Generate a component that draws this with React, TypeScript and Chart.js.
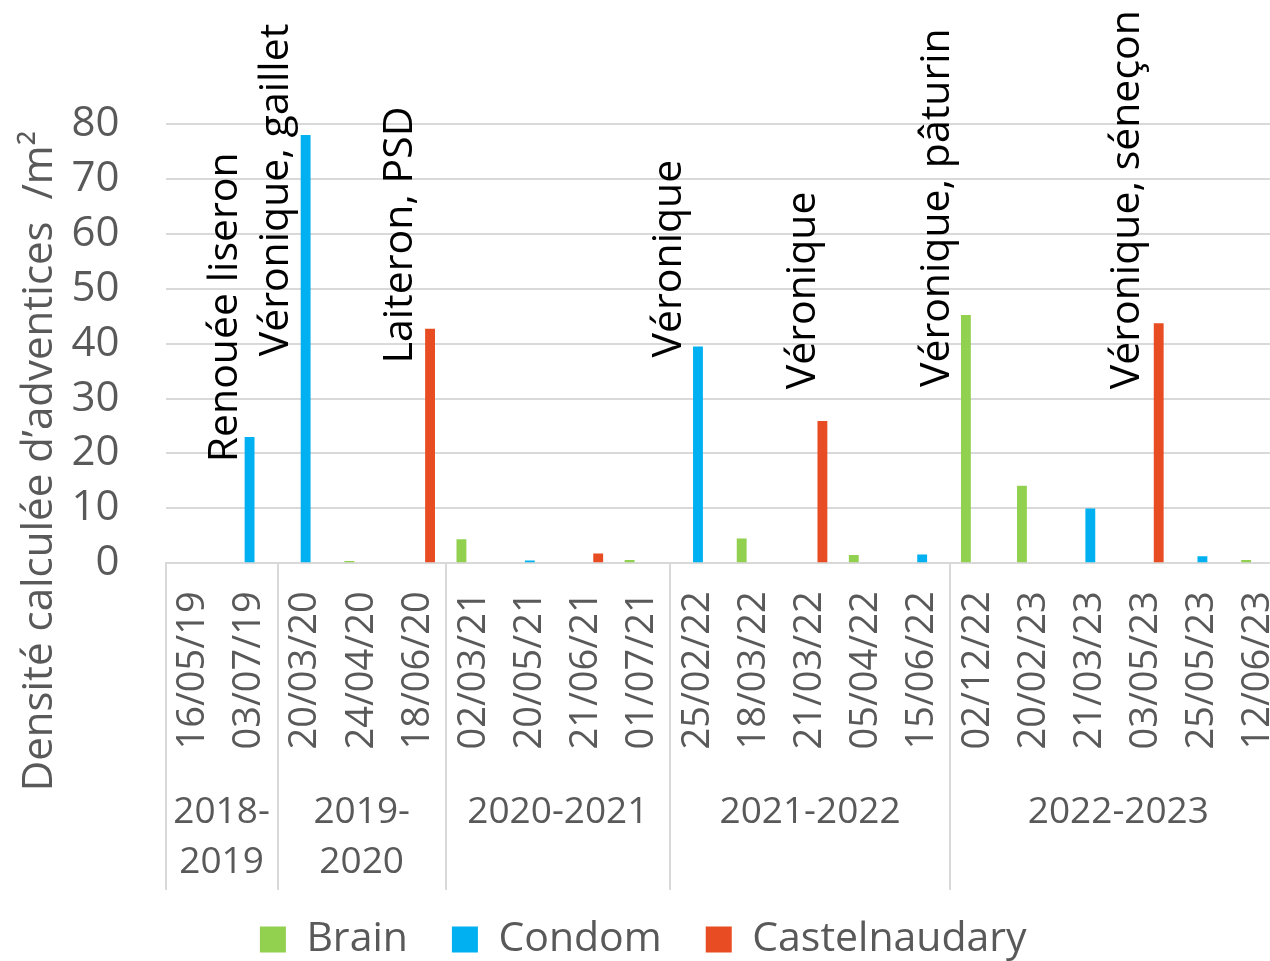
import React, { useEffect, useRef } from "react";
import { Chart, registerables } from "chart.js";

Chart.register(...registerables);

const dates = [
  "16/05/19", "03/07/19", "20/03/20", "24/04/20", "18/06/20",
  "02/03/21", "20/05/21", "21/06/21", "01/07/21",
  "25/02/22", "18/03/22", "21/03/22", "05/04/22", "15/06/22",
  "02/12/22", "20/02/23", "21/03/23", "03/05/23", "25/05/23", "12/06/23",
];

const brain = [null, null, null, 0.4, null, 4.4, null, null, 0.6, null, 4.5, null, 1.5, null, 45.2, 14.1, null, null, null, 0.6];
const condom = [null, 23, 78, null, null, null, 0.5, null, null, 39.5, null, null, null, 1.6, null, null, 10, null, 1.3, null];
const castelnaudary = [null, null, null, null, 42.7, null, null, 1.8, null, null, null, 25.9, null, null, null, null, null, 43.7, null, null];

const seriesNames = ["Brain", "Condom", "Castelnaudary"];
const seriesColors = ["#92D050", "#00B0F0", "#E84C22"];

const seasons = [["2018-", "2019"], ["2019-", "2020"], ["2020-2021"], ["2021-2022"], ["2022-2023"]];
const seasonSizes = [2, 3, 4, 5, 6];

const yTitle = "Densité calculée d’adventices  /m²";

const notes = ["Renouée liseron", "Véronique, gaillet", "Laiteron, PSD", "Véronique", "Véronique", "Véronique, pâturin", "Véronique, séneçon"];
const noteX = [0.776, 1.686, 3.898, 8.697, 11.088, 13.485, 16.861];
const noteY = [18.4, 37.7, 36.4, 37.5, 31.7, 32.1, 31.7];

const FONT = "'Open Sans', 'DejaVu Sans', sans-serif";
const GREY = "#595959";
const LINE = "#D9D9D9";

const extrasPlugin = {
  id: "extras",
  afterDraw(chart: any) {
    const { ctx, chartArea, scales } = chart;
    const x = scales.x;
    const y = scales.y;
    ctx.save();
    ctx.strokeStyle = LINE;
    ctx.lineWidth = 2;
    let start = 0;
    const bottom = 890;
    const drawSep = (idx: number) => {
      const px = Math.round(x.getPixelForValue(idx - 0.5));
      ctx.beginPath();
      ctx.moveTo(px, chartArea.bottom);
      ctx.lineTo(px, bottom);
      ctx.stroke();
    };
    drawSep(0);
    ctx.fillStyle = GREY;
    ctx.font = `37px ${FONT}`;
    ctx.textAlign = "center";
    ctx.textBaseline = "middle";
    seasons.forEach((lines, i) => {
      const end = start + seasonSizes[i];
      if (end < dates.length) drawSep(end);
      const cx = x.getPixelForValue((start + end - 1) / 2);
      lines.forEach((t, j) => ctx.fillText(t, cx, 812 + j * 50));
      start = end;
    });
    ctx.save();
    ctx.translate(52, 461);
    ctx.rotate(-Math.PI / 2);
    ctx.textAlign = "center";
    ctx.textBaseline = "alphabetic";
    ctx.font = `42px ${FONT}`;
    ctx.fillStyle = GREY;
    ctx.fillText(yTitle, 0, 0);
    ctx.restore();
    ctx.fillStyle = "#000";
    ctx.font = `41px ${FONT}`;
    notes.forEach((t, i) => {
      const px = x.getPixelForValue(noteX[i]);
      const py = y.getPixelForValue(noteY[i]);
      ctx.save();
      ctx.translate(px, py);
      ctx.rotate(-Math.PI / 2);
      ctx.textAlign = "left";
      ctx.textBaseline = "alphabetic";
      ctx.fillText(t, 0, 0);
      ctx.restore();
    });
    ctx.restore();
  },
};

export default function App() {
  const ref = useRef<HTMLCanvasElement>(null);
  useEffect(() => {
    const canvas = ref.current!;
    const seriesData = [brain, condom, castelnaudary];
    const chart = new Chart(canvas, {
      type: "bar",
      data: {
        labels: dates,
        datasets: seriesNames.map((n, i) => ({
          label: n,
          data: seriesData[i],
          backgroundColor: seriesColors[i],
          borderWidth: 0,
          categoryPercentage: 0.66,
          barPercentage: 0.8,
        })),
      },
      options: {
        responsive: false,
        devicePixelRatio: 1,
        animation: false,
        layout: { padding: { top: 124, left: 0, right: 3.5, bottom: 0 } },
        plugins: {
          tooltip: { enabled: false },
          legend: {
            position: "bottom",
            labels: {
              boxWidth: 26,
              boxHeight: 26,
              padding: 44,
              color: GREY,
              font: { family: FONT, size: 41 },
            },
          },
        },
        scales: {
          x: {
            grid: { display: false, drawTicks: false },
            border: { display: true, color: LINE, width: 2 },
            ticks: {
              autoSkip: false,
              minRotation: 90,
              maxRotation: 90,
              padding: 28,
              color: GREY,
              font: { family: FONT, size: 38 },
            },
            afterFit: (s: any) => {
              s.height = 311.7;
              s.paddingLeft = 0;
              s.paddingRight = 0;
            },
          },
          y: {
            min: 0,
            max: 80,
            grid: { color: LINE, lineWidth: 2, drawTicks: false },
            border: { display: false },
            ticks: {
              stepSize: 10,
              padding: 46,
              color: GREY,
              font: { family: FONT, size: 42 },
            },
            afterFit: (s: any) => {
              s.width = 165.5;
              s.paddingTop = 0;
              s.paddingBottom = 0;
            },
          },
        },
      },
      plugins: [extrasPlugin],
    });
    return () => chart.destroy();
  }, []);
  return (
    <div style={{ position: "fixed", left: 0, top: 0, width: 1270, height: 961, overflow: "hidden", background: "#fff" }}>
      <canvas ref={ref} width={1290} height={970} style={{ display: "block", width: 1290, height: 970 }} />
    </div>
  );
}
